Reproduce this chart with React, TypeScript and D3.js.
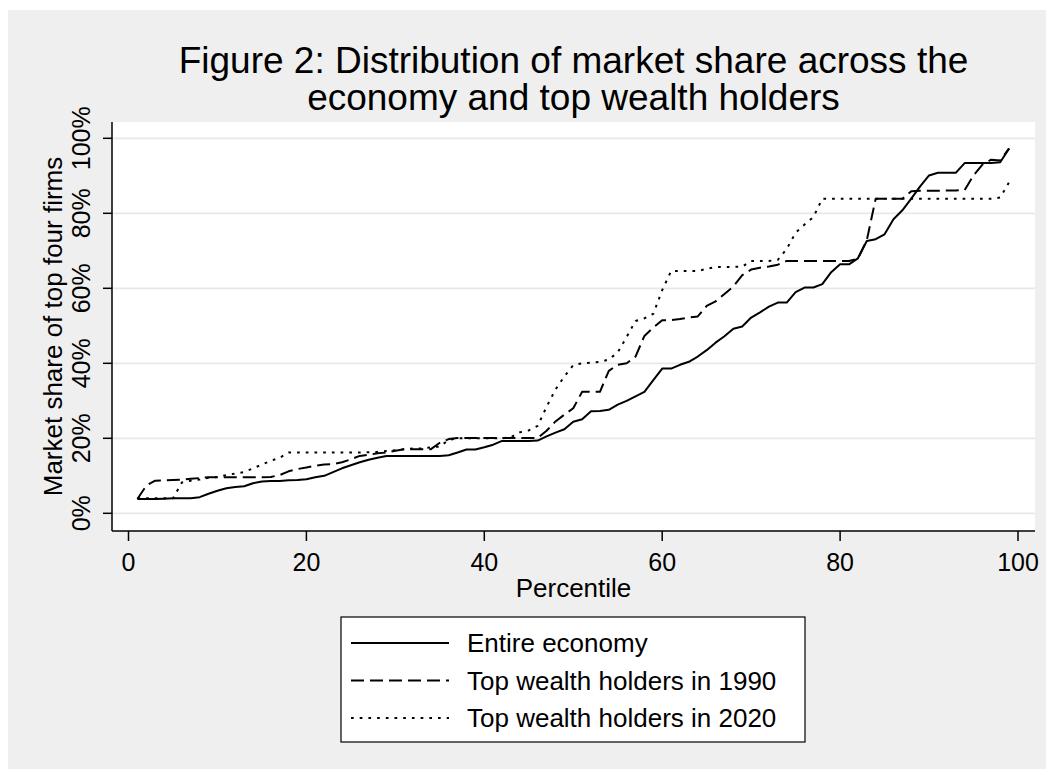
import React from "react";
import * as d3 from "d3";

const titleLines = [
  "Figure 2: Distribution of market share across the",
  "economy and top wealth holders",
];
const xTitle = "Percentile";
const yTitle = "Market share of top four firms";

const xTicks = [0, 20, 40, 60, 80, 100];
const yTicks = [0, 20, 40, 60, 80, 100];
const yTickLabels = ["0%", "20%", "40%", "60%", "80%", "100%"];

const percentiles = [
  1, 2, 3, 4, 5, 6, 7, 8, 9, 10,
  11, 12, 13, 14, 15, 16, 17, 18, 19, 20,
  21, 22, 23, 24, 25, 26, 27, 28, 29, 30,
  31, 32, 33, 34, 35, 36, 37, 38, 39, 40,
  41, 42, 43, 44, 45, 46, 47, 48, 49, 50,
  51, 52, 53, 54, 55, 56, 57, 58, 59, 60,
  61, 62, 63, 64, 65, 66, 67, 68, 69, 70,
  71, 72, 73, 74, 75, 76, 77, 78, 79, 80,
  81, 82, 83, 84, 85, 86, 87, 88, 89, 90,
  91, 92, 93, 94, 95, 96, 97, 98, 99,
];

const entireEconomy = [
  3.8, 3.8, 3.8, 3.9, 4.0, 4.0, 4.0, 4.3, 5.2, 6.0,
  6.7, 7.0, 7.2, 8.0, 8.5, 8.6, 8.6, 8.8, 8.9, 9.1,
  9.6, 10.0, 11.0, 12.0, 12.8, 13.6, 14.3, 14.8, 15.3, 15.3,
  15.3, 15.3, 15.3, 15.3, 15.3, 15.5, 16.2, 17.0, 17.0, 17.6,
  18.3, 19.3, 19.3, 19.3, 19.3, 19.4, 20.5, 21.5, 22.4, 24.4,
  25.1, 27.2, 27.3, 27.6, 29.0, 30.0, 31.2, 32.4, 35.5, 38.6,
  38.6, 39.6, 40.4, 41.8, 43.5, 45.5, 47.2, 49.2, 49.8, 52.2,
  53.6, 55.1, 56.2, 56.2, 59.0, 60.2, 60.2, 61.1, 64.3, 66.4,
  66.4, 68.0, 72.6, 73.1, 74.4, 78.4, 80.8, 83.9, 87.2, 90.1,
  90.8, 90.8, 90.8, 93.4, 93.4, 93.4, 93.4, 93.6, 97.3,
];

const topWealth1990 = [
  3.8, 7.4, 8.7, 8.8, 8.9, 9.0, 9.2, 9.4, 9.6, 9.6,
  9.6, 9.6, 9.6, 9.6, 9.6, 9.7, 10.2, 11.2, 11.8, 12.2,
  12.7, 13.0, 13.1, 13.6, 14.4, 15.3, 15.6, 16.0, 16.2, 16.7,
  17.1, 17.1, 17.1, 17.1, 18.8, 19.8, 20.1, 20.1, 20.1, 20.1,
  20.1, 20.1, 20.1, 20.1, 20.1, 20.1, 22.0, 24.5, 26.3, 28.0,
  32.4, 32.4, 32.4, 38.0, 39.6, 40.0, 41.8, 47.3, 49.5, 51.5,
  51.5, 51.8, 52.2, 52.5, 55.3, 56.5, 58.5, 60.5, 63.5, 65.0,
  65.5, 65.8, 66.3, 67.3, 67.3, 67.3, 67.3, 67.3, 67.3, 67.3,
  67.3, 67.9, 72.8, 83.9, 83.9, 83.9, 83.9, 85.9, 86.0, 86.0,
  86.0, 86.1, 86.1, 86.2, 90.1, 93.0, 94.3, 94.1, 97.3,
];

const topWealth2020 = [
  4.0, 4.0, 4.0, 4.0, 4.0, 8.2, 8.7, 9.0, 9.5, 9.7,
  10.2, 10.6, 11.0, 12.0, 13.0, 14.0, 14.8, 16.2, 16.2, 16.2,
  16.2, 16.2, 16.2, 16.2, 16.2, 16.2, 16.3, 16.4, 16.6, 16.8,
  17.1, 17.3, 17.3, 17.6, 17.8, 19.6, 20.0, 20.0, 20.0, 20.0,
  20.0, 20.0, 20.3, 21.6, 22.1, 23.3, 28.4, 33.0, 36.5, 39.5,
  40.0, 40.2, 40.4, 41.0, 42.9, 47.0, 51.3, 52.0, 53.2, 59.5,
  64.6, 64.6, 64.6, 64.6, 65.2, 65.7, 65.7, 65.7, 65.8, 67.3,
  67.3, 67.3, 67.6, 70.5, 74.8, 77.0, 79.0, 83.9, 83.9, 83.9,
  83.9, 83.9, 83.9, 83.9, 83.9, 83.9, 83.9, 83.9, 83.9, 83.9,
  83.9, 83.9, 83.9, 83.9, 83.9, 83.9, 83.9, 84.2, 88.3,
];

const seriesNames = [
  "Entire economy",
  "Top wealth holders in 1990",
  "Top wealth holders in 2020",
];
const seriesValues = [entireEconomy, topWealth1990, topWealth2020];
const seriesDash = ["none", "13,6", "2.7,6"];

const W = 1046;
const H = 769;
const FONT = "'Liberation Sans', Arial, Helvetica, sans-serif";

export default function App() {
  const plot = { left: 112, right: 1035, top: 122, bottom: 531 };
  const x = d3.scaleLinear().domain([0, 100]).range([128.5, 1018]);
  const y = d3.scaleLinear().domain([0, 100]).range([513.3, 138.3]);
  const line = d3
    .line<number>()
    .x((_, i) => x(percentiles[i]))
    .y((v) => y(v));

  const legend = { x: 341, y: 617, w: 464, h: 125, rowY: [643, 680.5, 718] };

  return (
    <svg
      width={W}
      height={H}
      style={{ position: "absolute", left: 0, top: 0, display: "block" }}
      fontFamily={FONT}
    >
      <rect x={0} y={0} width={W} height={H} fill="#ffffff" />
      <rect x={8} y={10} width={W - 8} height={H - 10} fill="#efefef" />
      <rect
        x={plot.left}
        y={plot.top}
        width={plot.right - plot.left}
        height={plot.bottom - plot.top}
        fill="#ffffff"
      />
      {/* gridlines */}
      {yTicks.map((t) => (
        <line
          key={"g" + t}
          x1={plot.left}
          x2={plot.right}
          y1={y(t)}
          y2={y(t)}
          stroke="#e8e8e8"
          strokeWidth={1.8}
        />
      ))}
      {/* series */}
      {seriesValues.map((vals, i) => (
        <path
          key={"s" + i}
          d={line(vals) || ""}
          fill="none"
          stroke="#000"
          strokeWidth={2}
          strokeDasharray={seriesDash[i]}
          strokeLinejoin="round"
        />
      ))}
      {/* axes */}
      <line x1={plot.left} x2={plot.left} y1={plot.top} y2={plot.bottom} stroke="#000" strokeWidth={1.5} />
      <line x1={plot.left} x2={plot.right} y1={plot.bottom} y2={plot.bottom} stroke="#000" strokeWidth={1.5} />
      {yTicks.map((t, i) => (
        <g key={"yt" + t}>
          <line x1={103} x2={plot.left} y1={y(t)} y2={y(t)} stroke="#000" strokeWidth={1.5} />
          <text
            transform={`translate(89.5,${y(t)}) rotate(-90)`}
            textAnchor="middle"
            fontSize={25}
            fill="#000"
          >
            {yTickLabels[i]}
          </text>
        </g>
      ))}
      {xTicks.map((t) => (
        <g key={"xt" + t}>
          <line x1={x(t)} x2={x(t)} y1={plot.bottom} y2={541} stroke="#000" strokeWidth={1.5} />
          <text x={x(t)} y={571} textAnchor="middle" fontSize={25} fill="#000">
            {t}
          </text>
        </g>
      ))}
      <text x={(plot.left + plot.right) / 2} y={597} textAnchor="middle" fontSize={26} fill="#000">
        {xTitle}
      </text>
      <text
        transform={`translate(62,${(plot.top + plot.bottom) / 2}) rotate(-90)`}
        textAnchor="middle"
        fontSize={26}
        fill="#000"
      >
        {yTitle}
      </text>
      {/* title */}
      {titleLines.map((t, i) => (
        <text
          key={"t" + i}
          x={(plot.left + plot.right) / 2}
          y={73 + i * 37}
          textAnchor="middle"
          fontSize={37}
          fill="#000"
        >
          {t}
        </text>
      ))}
      {/* legend */}
      <rect x={legend.x} y={legend.y} width={legend.w} height={legend.h} fill="#fff" stroke="#000" strokeWidth={1.2} />
      {seriesNames.map((n, i) => (
        <g key={"l" + i}>
          <line
            x1={351}
            x2={449}
            y1={legend.rowY[i]}
            y2={legend.rowY[i]}
            stroke="#000"
            strokeWidth={2}
            strokeDasharray={seriesDash[i]}
          />
          <text x={467} y={legend.rowY[i] + 9} fontSize={26} fill="#000">
            {n}
          </text>
        </g>
      ))}
    </svg>
  );
}
